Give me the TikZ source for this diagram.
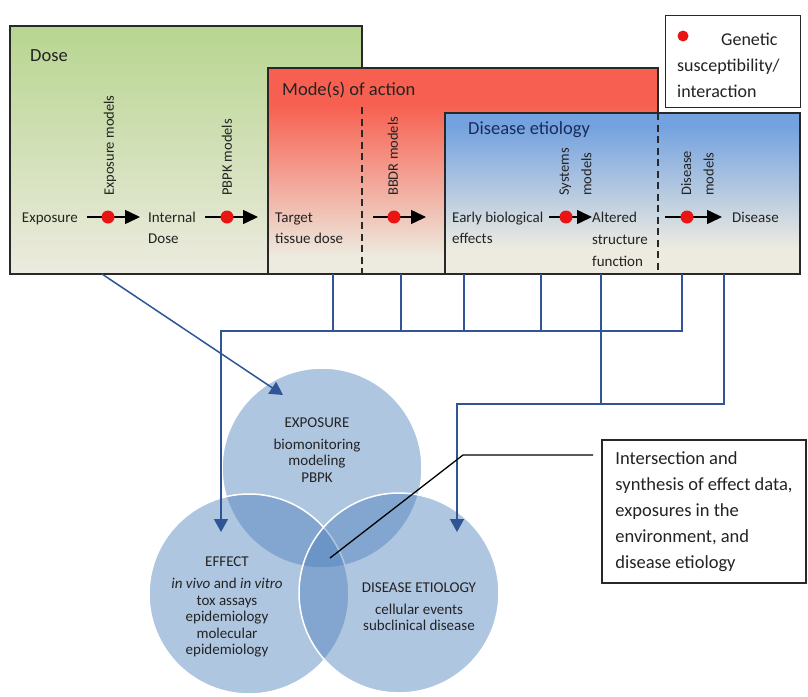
\documentclass[tikz,border=0pt]{standalone}
\usepackage{fontspec}
\setmainfont{Carlito}
\usetikzlibrary{arrows.meta}

\definecolor{beige}{RGB}{237,235,224}
\definecolor{dosegreen}{RGB}{183,213,143}
\definecolor{modered}{RGB}{247,96,80}
\definecolor{etioblue}{RGB}{116,162,224}
\definecolor{frame}{RGB}{40,40,40}
\definecolor{linkblue}{RGB}{47,85,151}
\definecolor{vennblue}{RGB}{79,129,189}
\definecolor{ink}{RGB}{35,35,35}
\definecolor{navy}{RGB}{25,45,90}
\definecolor{dotred}{RGB}{235,20,20}

% vertical shadings: bottom colour first, path height maps to 25bp..75bp
\pgfdeclareverticalshading{doseshade}{100bp}{color(0bp)=(beige); color(25bp)=(beige); color(75bp)=(dosegreen); color(100bp)=(dosegreen)}
\pgfdeclareverticalshading{modeshade}{100bp}{color(0bp)=(beige); color(29bp)=(beige); color(66bp)=(modered); color(100bp)=(modered)}
\pgfdeclareverticalshading{etioshade}{100bp}{color(0bp)=(beige); color(33bp)=(beige); color(71bp)=(etioblue); color(100bp)=(etioblue)}

\begin{document}
\begin{tikzpicture}[x=1pt,y=-1pt,
  boxframe/.style={draw=frame, line width=1.3pt},
  divider/.style={draw=frame, line width=1.4pt, dash pattern=on 7pt off 4.5pt},
  rowtext/.style={font=\fontsize{15}{21}\selectfont, text=ink, inner sep=0pt, align=left},
  modeltext/.style={font=\fontsize{14.5}{22.5}\selectfont, text=ink, inner sep=0pt, rotate=90, anchor=west, align=left},
  titletext/.style={font=\fontsize{18.5}{22}\selectfont, inner sep=0pt, anchor=west},
  gdot/.style={circle, fill=dotred, inner sep=0pt, minimum size=13pt},
  rowarrow/.style={line width=1.5pt, -{Triangle[length=15pt,width=14pt]}},
  link/.style={draw=linkblue, line width=1.5pt},
  linkarrow/.style={link, -{Triangle[length=13pt,width=14pt]}},
  venn/.style={circle, minimum size=200pt, fill=vennblue, fill opacity=0.45, draw=white, draw opacity=1, line width=1.5pt, inner sep=0pt},
  venntext/.style={font=\fontsize{15}{16.5}\selectfont, text=ink, align=center, inner sep=0pt},
]
\useasboundingbox[fill=white] (0,0) rectangle (808,696);

% ---------- stage boxes ----------
\path[shading=doseshade, boxframe] (10,26) rectangle (362,274);
\node[titletext, text=ink] (tdose) at (30,56) {Dose};

\path[shading=modeshade, boxframe] (268,68) rectangle (658,274);
\node[titletext, text=ink] (tmode) at (282,90) {Mode(s) of action};
\draw[divider] (362,107) -- (362,274);

\path[shading=etioshade, boxframe] (445,113) rectangle (800,274);
\node[titletext, text=navy] (tetio) at (468,130) {Disease etiology};
\draw[divider] (658,113) -- (658,274);

% ---------- legend ----------
\node[draw=frame, line width=1.3pt, fill=white, minimum width=135pt, minimum height=92pt, inner sep=0pt, anchor=north west] (legend) at (665,15) {};
\node[gdot, minimum size=11pt] (ldot) at (683,36) {};
\node[font=\fontsize{18}{26}\selectfont, text=ink, align=left, inner sep=0pt, anchor=west] (ltext) at (677,65) {\hspace*{44pt}Genetic\\susceptibility/\\interaction};

% ---------- stage labels (base = baseline of the last line) ----------
\node[rowtext, anchor=base east] (lexpo) at (78,222) {Exposure};
\node[rowtext, anchor=base west] (lint) at (148,243) {Internal\\Dose};
\node[rowtext, anchor=base west] (ltarget) at (275,243) {Target\\tissue dose};
\node[rowtext, anchor=base west] (learly) at (452,243) {Early biological\\effects};
\node[rowtext, anchor=base west, font=\fontsize{15}{22}\selectfont] (lalt) at (592,266) {Altered\\structure\\function};
\node[rowtext, anchor=base west] (ldis) at (732,222) {Disease};

% ---------- model labels ----------
\node[modeltext] (mexpo) at (110,196) {Exposure models};
\node[modeltext] (mpbpk) at (227,196) {PBPK models};
\node[modeltext] (mbbdr) at (393,196) {BBDR models};
\node[modeltext] (msys) at (575.5,196) {Systems\\models};
\node[modeltext] (mdis) at (697.5,196) {Disease\\models};

% ---------- model arrows with susceptibility dots ----------
\coordinate (s1) at (87,217);  \coordinate (e1) at (140,217);
\coordinate (s2) at (205,217); \coordinate (e2) at (258,217);
\coordinate (s3) at (373,217); \coordinate (e3) at (426,217);
\coordinate (s4) at (549,217); \coordinate (e4) at (592,217);
\coordinate (s5) at (665,217); \coordinate (e5) at (722,217);
\foreach \k in {1,...,5} \draw[rowarrow] (s\k) -- (e\k);
\node[gdot] (g1) at (108,217) {};
\node[gdot] (g2) at (227,217) {};
\node[gdot] (g3) at (394,217) {};
\node[gdot, minimum width=9pt, minimum height=13pt, ellipse/.try] (g4) at (566,217) {};
\node[gdot] (g5) at (687,217) {};

% ---------- venn circles ----------
\node[venn] (cexpo) at (322,468) {};
\node[venn] (ceff) at (249,594) {};
\node[venn] (cdis) at (399,593) {};

\node[venntext] (texpo) at (317,450) {EXPOSURE\\[5pt]biomonitoring\\modeling\\PBPK};
\node[venntext] (teff) at (227,607) {EFFECT\\[5.5pt]\textit{in vivo} and \textit{in vitro}\\tox assays\\epidemiology\\molecular\\epidemiology};
\node[venntext] (tdis) at (419,607) {DISEASE ETIOLOGY\\[5pt]cellular events\\subclinical disease};

% ---------- links from the stages to the circles ----------
\coordinate (b0) at (102,274);
\coordinate (tipX) at (283,395);
\draw[linkarrow] (b0) -- (tipX);

\coordinate (p1) at (333,274);
\coordinate (p2) at (401,274);
\coordinate (p3) at (464,274);
\coordinate (p4) at (541,274);
\coordinate (p5) at (682,274);
\coordinate (busE) at (221,331);
\coordinate (tipE) at (221,532);
\foreach \p in {p1,p2,p3,p4} \draw[link] (\p) -- (\p |- busE);
\draw[linkarrow] (p5) |- (busE) -- (tipE);

\coordinate (q1) at (601,274);
\coordinate (q2) at (724,274);
\coordinate (busD) at (457,404);
\coordinate (tipD) at (457,532);
\draw[link] (q1) -- (q1 |- busD);
\draw[linkarrow] (q2) |- (busD) -- (tipD);

% ---------- synthesis call-out ----------
\node[draw=frame, line width=1.3pt, fill=white, minimum width=204pt, minimum height=143pt, inner sep=0pt, align=left, font=\fontsize{18.5}{26}\selectfont, text=ink] (synth) at (704,511.5) {Intersection and\\synthesis of effect data,\\exposures in the\\environment, and\\disease etiology};
\coordinate (lens) at (330,558);
\coordinate (bend) at (463,455);
\coordinate (lead) at (593,455);
\draw[draw=black, line width=1.3pt] (lens) -- (bend) -- (lead);
\end{tikzpicture}
\end{document}
